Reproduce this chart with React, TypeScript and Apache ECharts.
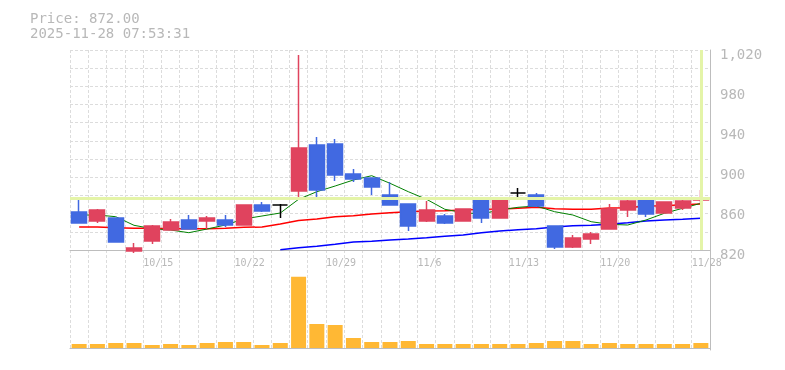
import React, { useEffect, useRef } from 'react';
import * as echarts from 'echarts';

const dates = ['10/8','10/9','10/10','10/14','10/15','10/16','10/17','10/20','10/21','10/22','10/23','10/24','10/27','10/28','10/29','10/30','10/31','11/4','11/5','11/6','11/7','11/10','11/11','11/12','11/13','11/14','11/17','11/18','11/19','11/20','11/21','11/25','11/26','11/27','11/28'];
const opens  = [858, 849, 852, 819, 829, 840, 850, 849, 850, 845, 865, 865, 879, 925, 926, 896, 892, 875, 866, 849, 854, 849, 870, 852, 877, 875, 844, 823, 831, 841, 860, 871, 857, 862, 870];
const closes = [847, 860, 828, 822, 844, 848, 841, 852, 845, 865, 859, 865, 922, 880, 895, 891, 883, 865, 844, 860, 847, 861, 852, 871, 877, 864, 823, 832, 836, 861, 869, 856, 868, 869, 872];
const lows   = [847, 847, 828, 817, 826, 840, 841, 841, 843, 845, 858, 852, 871, 873, 889, 888, 875, 865, 839, 848, 846, 849, 847, 852, 871, 863, 821, 822, 826, 841, 853, 853, 857, 860, 866];
const highs  = [870, 861, 852, 827, 845, 851, 855, 854, 855, 865, 868, 866, 1015, 933, 931, 901, 892, 888, 866, 869, 856, 861, 870, 873, 882, 877, 844, 835, 838, 866, 871, 871, 868, 872, 880];
const volumes = [40, 40, 50, 50, 30, 40, 30, 50, 60, 60, 30, 50, 713, 240, 230, 100, 60, 60, 70, 40, 40, 40, 40, 40, 40, 50, 70, 70, 40, 50, 40, 40, 40, 40, 50];
const ma5 = [855, 855, 853.3, 844.7, 841.3, 840, 837.3, 841, 845, 851, 854, 857, 870.7, 878.3, 884, 890, 894.3, 886.7, 878.3, 870.7, 860.7, 857.3, 856, 860, 862.7, 864, 858.3, 855, 848.3, 845.7, 845, 850, 856.7, 861.7, 866.7];
const ma25 = [843, 843, 842.3, 841.7, 841.7, 841.3, 841.3, 841.3, 841.7, 842.7, 843, 846, 849.5, 851, 853.3, 854.3, 856, 857.3, 858.3, 859, 859.3, 860, 860.7, 861, 861.7, 862.7, 861.3, 860.7, 860.7, 862, 862.3, 864, 864.3, 865.3, 866];
const ma75 = [null, null, null, null, null, null, null, null, null, null, null, 820.2, 822.2, 823.7, 825.7, 828, 828.7, 830, 831, 832.3, 833.7, 835, 837.3, 839, 840.3, 841.2, 843, 844.3, 844.7, 845.7, 847.3, 849, 850, 850.7, 851.7];
const lastPrice = 872;
const priceText = 'Price: 872.00';
const timeText = '2025-11-28 07:53:31';
const priceMin = 820;
const priceMax = 1020;
const priceStep = 40;
const labelEvery = 5;

const MONO = '"DejaVu Sans Mono", monospace';
const TEXT = '#b8b8b8';
const AXIS = '#bdbdbd';
const GRID = { color: '#dcdcdc', type: [3, 2] as number[], width: 1 };
const UP = '#e0435e';
const DOWN = '#4169e1';

export default function App() {
  const ref = useRef<HTMLDivElement>(null);
  useEffect(() => {
    const chart = echarts.init(ref.current!, null, { renderer: 'svg' });
    const candles = dates.map((_, i) => [opens[i], closes[i], lows[i], highs[i]]);
    chart.setOption({
      animation: false,
      textStyle: { fontFamily: MONO },
      graphic: [
        { type: 'text', left: 30, top: 11, style: { text: priceText, fill: TEXT, font: `14px ${MONO}` } },
        { type: 'text', left: 30, top: 26, style: { text: timeText, fill: TEXT, font: `14px ${MONO}` } },
      ],
      grid: [
        { left: 70, right: 75, top: 50, height: 200 },
        { left: 70, right: 75, top: 250, height: 100 },
      ],
      xAxis: [
        {
          type: 'category', gridIndex: 0, data: dates, boundaryGap: true,
          axisLine: { show: true, lineStyle: { color: AXIS, width: 1 } },
          axisTick: { show: false }, axisLabel: { show: false },
          splitLine: { show: true, interval: 0, lineStyle: GRID },
        },
        {
          type: 'category', gridIndex: 1, data: dates, boundaryGap: true,
          axisLine: { show: true, lineStyle: { color: AXIS, width: 1 } },
          axisTick: { show: false }, axisLabel: { show: false },
          splitLine: { show: true, interval: 0, lineStyle: GRID },
        },
        {
          type: 'category', gridIndex: 0, data: [...dates, ''], boundaryGap: false, position: 'bottom',
          axisLine: { show: false }, axisTick: { show: false }, splitLine: { show: false },
          axisLabel: {
            interval: (i: number) => i % labelEvery === labelEvery - 1,
            align: 'left', margin: 7, color: TEXT, fontSize: 10, fontFamily: MONO,
          },
        },
      ],
      yAxis: [
        {
          type: 'value', gridIndex: 0, position: 'right', min: priceMin, max: priceMax, interval: priceStep,
          axisLine: { show: true, lineStyle: { color: AXIS, width: 1 } },
          axisTick: { show: false }, splitLine: { show: false },
          axisLabel: {
            margin: 10, color: TEXT, fontSize: 14, fontFamily: MONO,
            verticalAlign: 'top', lineHeight: 8,
            formatter: (v: number) => v.toLocaleString('en-US'),
          },
        },
        {
          type: 'value', gridIndex: 0, position: 'left', min: 0, max: 11, interval: 1,
          axisLine: { show: false }, axisTick: { show: false }, axisLabel: { show: false },
          splitLine: { show: true, lineStyle: GRID },
        },
        {
          type: 'value', gridIndex: 1, position: 'right', min: -20, max: 980,
          axisLine: { show: true, lineStyle: { color: AXIS, width: 1 } },
          axisTick: { show: false }, axisLabel: { show: false }, splitLine: { show: false },
        },
      ],
      series: [
        {
          type: 'line', xAxisIndex: 0, yAxisIndex: 0, data: [], z: 1, silent: true,
          markLine: {
            symbol: 'none', silent: true, label: { show: false },
            emphasis: { disabled: true },
            lineStyle: { color: '#e4f4a8', width: 3, type: 'solid' },
            data: [{ yAxis: lastPrice }, { xAxis: dates[dates.length - 1] }],
          },
        },
        { name: 'MA75', type: 'line', xAxisIndex: 0, yAxisIndex: 0, data: ma75, z: 2, symbol: 'none', lineStyle: { color: '#0000ff', width: 1.5 } },
        { name: 'MA25', type: 'line', xAxisIndex: 0, yAxisIndex: 0, data: ma25, z: 2, symbol: 'none', lineStyle: { color: '#ff0000', width: 1.5 } },
        { name: 'MA5', type: 'line', xAxisIndex: 0, yAxisIndex: 0, data: ma5, z: 2, symbol: 'none', lineStyle: { color: '#008000', width: 1 } },
        {
          type: 'candlestick', xAxisIndex: 0, yAxisIndex: 0, data: candles, z: 3, barWidth: 15.5,
          itemStyle: { color: UP, color0: DOWN, borderColor: UP, borderColor0: DOWN, borderColorDoji: '#000000', borderWidth: 1.5 },
        },
        {
          type: 'bar', xAxisIndex: 1, yAxisIndex: 2, data: volumes, barWidth: 15,
          itemStyle: { color: '#ffb834' },
        },
      ],
    });
    return () => chart.dispose();
  }, []);
  return <div ref={ref} style={{ position: 'fixed', left: 0, top: 0, width: 785, height: 370 }} />;
}
